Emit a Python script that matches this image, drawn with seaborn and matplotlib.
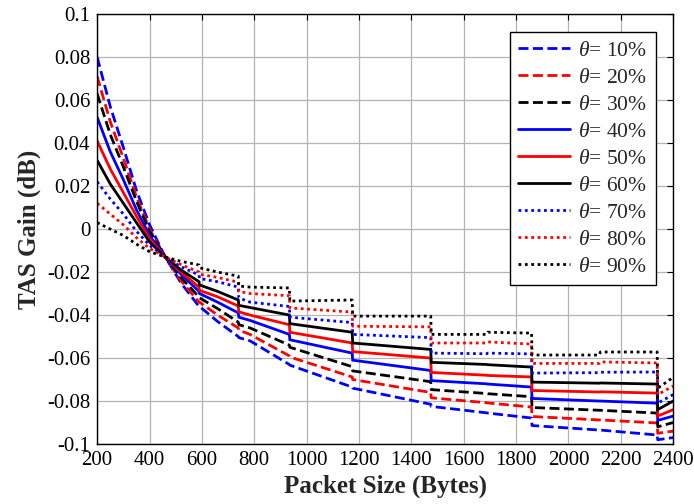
import matplotlib
matplotlib.use('Agg')
import matplotlib.pyplot as plt
import seaborn as sns

# packet size (bytes) and TAS gain (dB)
packet_size = [200, 250, 300, 350, 400, 460, 520, 589, 591, 660, 739, 741, 784,
               934, 936, 1174, 1176, 1474, 1476, 1688, 1692, 1859, 1861,
               2118, 2122, 2339, 2341, 2400]

gain_10 = [0.080, 0.057, 0.038, 0.018, 0.002, -0.013, -0.025, -0.036, -0.036,
           -0.043, -0.050, -0.0505, -0.052, -0.063, -0.0633, -0.0735, -0.074,
           -0.0815, -0.0825, -0.0855, -0.0856, -0.0879, -0.0914, -0.0935,
           -0.0935, -0.0958, -0.098, -0.097]
gain_20 = [0.071, 0.050, 0.033, 0.015, 0.000, -0.013, -0.024, -0.034, -0.034,
           -0.040, -0.046, -0.047, -0.049, -0.059, -0.0595, -0.0688, -0.070,
           -0.076, -0.0785, -0.0808, -0.0809, -0.0828, -0.0872, -0.0888,
           -0.0888, -0.0902, -0.095, -0.094]
gain_30 = [0.063, 0.044, 0.029, 0.013, -0.001, -0.013, -0.0225, -0.0316, -0.032,
           -0.037, -0.0433, -0.0445, -0.046, -0.054, -0.055, -0.064, -0.066,
           -0.071, -0.0747, -0.0765, -0.0766, -0.078, -0.083, -0.0843,
           -0.0843, -0.0856, -0.092, -0.090]
gain_40 = [0.052, 0.036, 0.023, 0.009, -0.003, -0.013, -0.021, -0.029, -0.030,
           -0.034, -0.039, -0.041, -0.0425, -0.049, -0.0515, -0.0577, -0.061,
           -0.0658, -0.0705, -0.072, -0.0721, -0.0735, -0.0788, -0.080,
           -0.080, -0.081, -0.089, -0.087]
gain_50 = [0.041, 0.028, 0.017, 0.006, -0.0045, -0.013, -0.020, -0.027, -0.0285,
           -0.0315, -0.0358, -0.0385, -0.040, -0.0445, -0.048, -0.053, -0.057,
           -0.060, -0.0667, -0.068, -0.0681, -0.0688, -0.0751, -0.0758,
           -0.0757, -0.0763, -0.087, -0.084]
gain_60 = [0.032, 0.021, 0.012, 0.003, -0.006, -0.013, -0.019, -0.0245, -0.026,
           -0.029, -0.033, -0.0355, -0.0365, -0.040, -0.044, -0.048, -0.053,
           -0.056, -0.062, -0.063, -0.0631, -0.0642, -0.0712, -0.0717,
           -0.0716, -0.0721, -0.084, -0.080]
gain_70 = [0.022, 0.014, 0.007, -0.001, -0.0075, -0.013, -0.0175, -0.0214, -0.023,
           -0.0245, -0.027, -0.032, -0.034, -0.036, -0.041, -0.0435, -0.049,
           -0.0505, -0.0577, -0.058, -0.0577, -0.0581, -0.067, -0.0668,
           -0.0666, -0.0665, -0.081, -0.077]
gain_80 = [0.012, 0.007, 0.002, -0.004, -0.009, -0.013, -0.0165, -0.020, -0.021,
           -0.0225, -0.0247, -0.029, -0.030, -0.031, -0.0367, -0.0386, -0.0452,
           -0.0455, -0.053, -0.053, -0.0525, -0.0535, -0.0625, -0.0625,
           -0.0618, -0.0623, -0.077, -0.073]
gain_90 = [0.003, 0.000, -0.003, -0.007, -0.0105, -0.013, -0.015, -0.0167, -0.018,
           -0.020, -0.0219, -0.0265, -0.027, -0.0274, -0.0335, -0.033, -0.0405,
           -0.0405, -0.049, -0.049, -0.048, -0.0484, -0.0586, -0.0586,
           -0.0572, -0.0572, -0.074, -0.069]

labels = [r'$\theta$= 10%', r'$\theta$= 20%', r'$\theta$= 30%',
          r'$\theta$= 40%', r'$\theta$= 50%', r'$\theta$= 60%',
          r'$\theta$= 70%', r'$\theta$= 80%', r'$\theta$= 90%']
gains = [gain_10, gain_20, gain_30, gain_40, gain_50, gain_60,
         gain_70, gain_80, gain_90]

x_ticks = [200, 400, 600, 800, 1000, 1200, 1400, 1600, 1800, 2000, 2200, 2400]
y_ticks = [-0.1, -0.08, -0.06, -0.04, -0.02, 0, 0.02, 0.04, 0.06, 0.08, 0.1]
y_ticklabels = ['-0.1', '-0.08', '-0.06', '-0.04', '-0.02', '0',
                '0.02', '0.04', '0.06', '0.08', '0.1']

colors = ['blue', 'red', 'black'] * 3
dashed = (0, (3.6, 1.6))
dotted = (0, (1.0, 1.3))
styles = [dashed] * 3 + ['-'] * 3 + [dotted] * 3

sns.set_style('whitegrid')
plt.rcParams['font.family'] = ['Liberation Serif', 'DejaVu Serif']
plt.rcParams['mathtext.fontset'] = 'custom'
plt.rcParams['mathtext.it'] = 'Liberation Serif:italic'
plt.rcParams['mathtext.rm'] = 'Liberation Serif'
plt.rcParams['axes.unicode_minus'] = False

fig = plt.figure(figsize=(6.94, 5.04), dpi=100)
ax = fig.add_axes([0.140, 0.119, 0.830, 0.853])

for lab, g, c, ls in zip(labels, gains, colors, styles):
    sns.lineplot(x=packet_size, y=g, color=c, linestyle=ls, linewidth=2.0,
                 label=lab, ax=ax, dash_capstyle='butt', solid_joinstyle='miter')

ax.set_xlim(200, 2400)
ax.set_ylim(-0.1, 0.1)
ax.set_xticks(x_ticks)
ax.set_yticks(y_ticks)
ax.set_yticklabels(y_ticklabels)

ax.grid(True, color='#b4b4b4', linewidth=0.9, linestyle='-')
for s in ax.spines.values():
    s.set_color('black')
    s.set_linewidth(1.0)
ax.tick_params(direction='in', length=4, width=0.8, top=True, right=True,
               labelsize=15, colors='black', pad=5)

ax.set_xlabel('Packet Size (Bytes)', fontsize=18, fontweight='bold', labelpad=3)
ax.set_ylabel('TAS Gain (dB)', fontsize=18, fontweight='bold', labelpad=4)

leg = ax.legend(loc='upper right', bbox_to_anchor=(0.970, 0.958),
                borderaxespad=0, frameon=True, fancybox=False,
                edgecolor='black', framealpha=1, fontsize=15.5,
                handlelength=2.4, labelspacing=0.32, borderpad=0.4,
                handletextpad=0.4)
leg.get_frame().set_linewidth(1.0)

fig.savefig('out.png', dpi=100)
